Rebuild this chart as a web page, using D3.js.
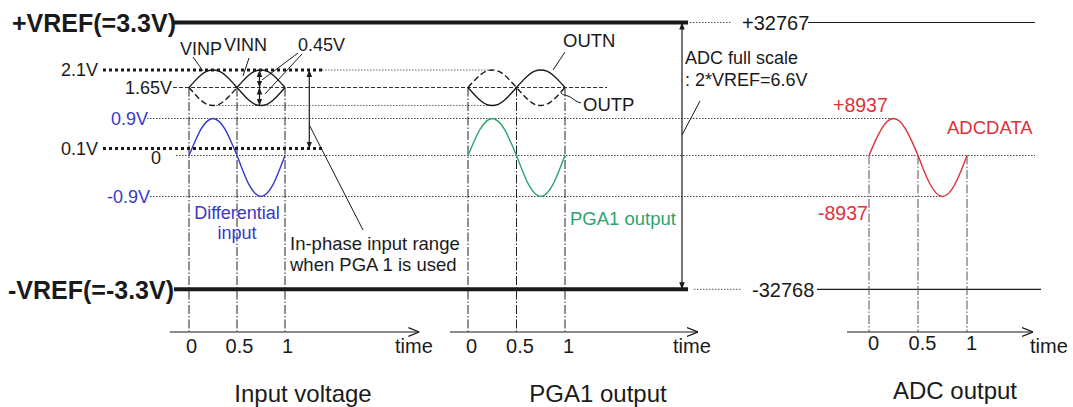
<!DOCTYPE html>
<html><head><meta charset="utf-8">
<script src="https://cdn.jsdelivr.net/npm/d3@7/dist/d3.min.js"></script>
<style>
body{margin:0;background:#fff}
text{font-family:"Liberation Sans",Arial,sans-serif;fill:#1a1a1a}
</style>
</head><body>
<svg id="c" width="1073" height="407"></svg>
<script>
// ---------- data ----------
const timeTicks = [0, 0.5, 1];
const tSamples = [0,0.0625,0.125,0.1875,0.25,0.3125,0.375,0.4375,0.5,0.5625,0.625,0.6875,0.75,0.8125,0.875,0.9375,1];
// differential input / PGA1 output (V)
const diffVolts = [0,0.34,0.64,0.83,0.9,0.83,0.64,0.34,0,-0.34,-0.64,-0.83,-0.9,-0.83,-0.64,-0.34,0];
// in-phase signals (V)
const vinp = [1.65,1.82,1.97,2.07,2.1,2.07,1.97,1.82,1.65,1.48,1.33,1.23,1.2,1.23,1.33,1.48,1.65];
const vinn = [1.65,1.48,1.33,1.23,1.2,1.23,1.33,1.48,1.65,1.82,1.97,2.07,2.1,2.07,1.97,1.82,1.65];
const outn = [1.65,1.48,1.33,1.23,1.2,1.23,1.33,1.48,1.65,1.82,1.97,2.07,2.1,2.07,1.97,1.82,1.65];
const outp = [1.65,1.82,1.97,2.07,2.1,2.07,1.97,1.82,1.65,1.48,1.33,1.23,1.2,1.23,1.33,1.48,1.65];
// ADC codes
const adcCodes = [0,3420,6319,8257,8937,8257,6319,3420,0,-3420,-6319,-8257,-8937,-8257,-6319,-3420,0];
const voltLevels = [2.1, 1.65, 1.2, 0.9, 0.1, 0, -0.9];
const codeLevels = [32767, 8937, 0, -8937, -32768];
const titles = ["Input voltage", "PGA1 output", "ADC output"];

// ---------- scales ----------
const yV = d3.scaleLinear()
  .domain([-3.3, -0.9, 0, 0.1, 0.9, 1.2, 1.65, 2.1, 3.3])
  .range([289.3, 196.5, 155.5, 148.5, 118.5, 105.5, 87.5, 70, 22.5]);
const yDiff = d3.scaleLinear().domain([-0.9, 0, 0.9]).range([196.5, 155.5, 118.5]);
const yCode = d3.scaleLinear().domain([-32768, -8937, 0, 8937, 32767]).range([289.3, 196.5, 155.5, 118.5, 22.5]);
const xIn = d3.scaleLinear().domain([0, 1]).range([189, 285]);
const xPga = d3.scaleLinear().domain([0, 1]).range([468, 565]);
const xAdc = d3.scaleLinear().domain([0, 1]).range([869, 967]);

const BLUE = "#3838c8", GREEN = "#2ea46c", RED = "#e0303a", INK = "#1a1a1a";
const svg = d3.select("#c");

// markers
const defs = svg.append("defs");
defs.append("marker").attr("id","open").attr("viewBox","0 0 10 10").attr("refX",10).attr("refY",5)
  .attr("markerWidth",11).attr("markerHeight",11).attr("markerUnits","userSpaceOnUse").attr("orient","auto")
  .append("path").attr("d","M0,1 L10,5 L0,9").attr("fill","none").attr("stroke",INK).attr("stroke-width",1.2);
defs.append("marker").attr("id","solid").attr("viewBox","0 0 10 10").attr("refX",10).attr("refY",5)
  .attr("markerWidth",7).attr("markerHeight",7).attr("markerUnits","userSpaceOnUse").attr("orient","auto-start-reverse")
  .append("path").attr("d","M0,1 L10,5 L0,9 Z").attr("fill",INK);

function hline(x1, x2, y, dash, w, color) {
  svg.append("line").attr("x1",x1).attr("x2",x2).attr("y1",y).attr("y2",y)
    .attr("stroke", color || INK).attr("stroke-width", w || 1)
    .attr("stroke-dasharray", dash || null);
}
function seg(x1,y1,x2,y2,w){
  return svg.append("line").attr("x1",x1).attr("y1",y1).attr("x2",x2).attr("y2",y2)
    .attr("stroke",INK).attr("stroke-width",w||1);
}
function label(txt, x, y, size, anchor, color, weight) {
  svg.append("text").attr("x",x).attr("y",y + size*0.35)
    .attr("font-size",size).attr("text-anchor",anchor||"start")
    .attr("font-weight",weight||"normal")
    .style("fill", color || INK).text(txt);
}

// ---------- horizontal reference lines ----------
const DOT = "1.5,1.5";
hline(174, 688, yV(3.3), null, 4);
hline(174, 688, yV(-3.3), null, 4);
hline(690, 732, yCode(32767), DOT, 1, "#555");
hline(808, 1035, yCode(32767), null, 1.2);
hline(694, 742, yCode(-32768), DOT, 1, "#555");
hline(817, 1041, yCode(-32768), null, 1.2);
hline(103, 322, yV(2.1), "3,3", 3);
hline(322, xPga(0.25), yV(2.1), DOT, 1, "#666");
hline(173, 607, yV(1.65), "4,2", 1, "#333");
hline(xIn(0.25), xPga(0.25), yV(1.2), DOT, 1, "#666");
hline(147, xAdc(0.25), yV(0.9), DOT, 1, "#444");
hline(103, 322, yV(0.1), "3,3", 3);
hline(176, 1035, yV(0), DOT, 1, "#444");
hline(150, xAdc(0.75), yV(-0.9), DOT, 1, "#444");

// ---------- vertical dash-dot time markers ----------
const DASHDOT = "9,2,1.5,2";
[xIn, xPga].forEach(x => timeTicks.forEach(t => {
  svg.append("line").attr("x1",x(t)).attr("x2",x(t)).attr("y1",yV(1.65)).attr("y2",332)
    .attr("stroke","#222").attr("stroke-width",1).attr("stroke-dasharray",DASHDOT);
}));
timeTicks.forEach(t => {
  svg.append("line").attr("x1",xAdc(t)).attr("x2",xAdc(t)).attr("y1",yCode(0)).attr("y2",332)
    .attr("stroke","#555").attr("stroke-width",1).attr("stroke-dasharray",DASHDOT);
});

// ---------- curves ----------
function curve(x, y, vals, color, dash, from, to) {
  const pts = tSamples.map((t,i)=>[t, vals[i]]).slice(from||0, (to===undefined?tSamples.length:to+1));
  svg.append("path").datum(pts)
    .attr("d", d3.line().x(d=>x(d[0])).y(d=>y(d[1])).curve(d3.curveNatural))
    .attr("fill","none").attr("stroke",color).attr("stroke-width",1.4)
    .attr("stroke-dasharray", dash || null);
}
curve(xIn, yV, vinp, INK);
curve(xIn, yV, vinn, INK, "6,3", 0, 8);
curve(xIn, yV, vinn, INK, null, 8, 16);
curve(xIn, yDiff, diffVolts, BLUE);
curve(xPga, yV, outn, INK);
curve(xPga, yV, outp, INK, "6,3");
curve(xPga, yDiff, diffVolts, GREEN);
curve(xAdc, yCode, adcCodes, RED);

// ---------- arrows ----------
function dbl(x, y1, y2) {
  svg.append("line").attr("x1",x).attr("x2",x).attr("y1",y1).attr("y2",y2)
    .attr("stroke",INK).attr("stroke-width",1.2)
    .attr("marker-start","url(#solid)").attr("marker-end","url(#solid)");
}
dbl(259.5, yV(2.1), yV(1.65));
dbl(259.5, yV(1.65), yV(1.2));
dbl(309.3, yV(2.1), yV(0.1));
dbl(682, yV(3.3), yV(-3.3));

// leaders
seg(193, 57, 203, 71);
seg(249, 58, 243, 76);
seg(298, 53, 262, 80);
seg(302, 54, 265, 94);
seg(309.3, 125, 363, 230);
seg(682, 135, 700, 101);
seg(565, 52, 553, 70);
svg.append("path").attr("d","M581,103 C575,102 572,97 568,96 S563,95 561,93")
  .attr("fill","none").attr("stroke",INK).attr("stroke-width",1);

// ---------- time axes ----------
const panels = [
  {x: xIn,  from: -0.2,   to: 2.4,  timeX: 395, tickDy: 7, tickDx: 2},
  {x: xPga, from: -0.186, to: 2.37, timeX: 673, tickDy: 7, tickDx: 3},
  {x: xAdc, from: -0.224, to: 1.673, timeX: 1030, tickDy: 4, tickDx: 4}
];
panels.forEach(p => {
  svg.append("line").attr("x1",p.x(p.from)).attr("x2",p.x(p.to)).attr("y1",332).attr("y2",332)
    .attr("stroke",INK).attr("stroke-width",1.2).attr("marker-end","url(#open)");
  const ax = svg.append("g").attr("transform",`translate(${p.tickDx},332)`)
    .call(d3.axisBottom(p.x).tickValues(timeTicks).tickSize(0).tickPadding(p.tickDy).tickFormat(d=>String(d)));
  ax.select(".domain").remove();
  ax.selectAll("text").attr("font-size",20).attr("font-family","Liberation Sans, Arial, sans-serif").style("fill",INK);
  label("time", p.timeX, 346, 20);
});

// ---------- labels ----------
label("+VREF(=3.3V)", 12, 23, 25, "start", INK, "bold");
label("-VREF(=-3.3V)", 8, 290, 25, "start", INK, "bold");
label(voltLevels[0] + "V", 98, yV(2.1), 18, "end");
label("1.65V", 172, yV(1.65), 18, "end");
label("0.9V", 148, yV(0.9), 18, "end", BLUE);
label("0.1V", 98, yV(0.1), 18, "end");
label("0", 156, 158, 18, "middle");
label("-0.9V", 150, yV(-0.9), 18, "end", BLUE);
label("VINP", 180, 49, 18);
label("VINN", 224, 45, 18);
label("0.45V", 298, 45, 18);
label("Differential", 237, 213, 18, "middle", BLUE);
label("input", 237, 233, 18, "middle", BLUE);
label("In-phase input range", 290, 244, 18.5);
label("when PGA 1 is used", 290, 265, 18.5);
label("OUTN", 563, 41, 18.5);
label("OUTP", 583, 105, 18.5);
label("PGA1 output", 570, 219, 18.5, "start", GREEN);
label("ADC full scale", 685, 58, 18);
label(": 2*VREF=6.6V", 685, 80, 18);
label("+" + codeLevels[0], 742, 23, 20);
label(String(codeLevels[4]), 752, 290, 20);
label("+" + codeLevels[1], 833, 105, 19.5, "start", RED);
label("ADCDATA", 947, 128, 18.5, "start", RED);
label(String(codeLevels[3]), 818, 213, 19.5, "start", RED);
label(titles[0], 303, 394, 24, "middle");
label(titles[1], 598, 394, 24, "middle");
label(titles[2], 955, 391, 24, "middle");
</script>
</body></html>
